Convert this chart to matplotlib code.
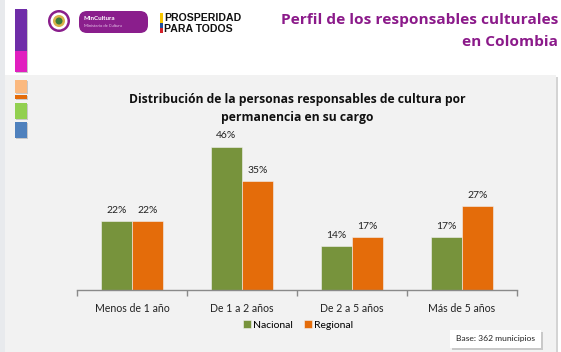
import matplotlib
matplotlib.use("Agg")
import matplotlib.pyplot as plt
from matplotlib.patches import Rectangle, FancyBboxPatch, Circle
import numpy as np

plt.rcParams['font.family'] = ['Lato', 'DejaVu Sans']
HEAD_FONT = ['Open Sans', 'DejaVu Sans']

# Data
categories = ["Menos de 1 año", "De 1 a 2 años", "De 2 a 5 años", "Más de 5 años"]
nacional = [22, 46, 14, 17]
regional = [22, 35, 17, 27]
series_names = ["Nacional", "Regional"]

W, H = 561, 352
fig = plt.figure(figsize=(W / 100, H / 100), dpi=100)
fig.patch.set_facecolor("#ffffff")

# Decoration layer in pixel coordinates (origin top-left)
bg = fig.add_axes([0, 0, 1, 1])
bg.set_xlim(0, W)
bg.set_ylim(H, 0)
bg.axis("off")

# Outer strip and page areas
bg.add_patch(Rectangle((0, 0), 5, H, color="#e8eaed", lw=0))
bg.add_patch(Rectangle((5, 0), W - 5, 74, color="#ffffff", lw=0))
# shadow and chart panel
bg.add_patch(Rectangle((7, 77), 551, H - 77, color="#d4d4d4", lw=0))
bg.add_patch(Rectangle((5, 75), 551, H - 75, color="#f2f2f2", lw=0))

# Left colour tabs
tabs = [
    (9, 51, "#6f2da8"),
    (51, 72, "#e11fbf"),
    (80, 93, "#fbb97f"),
    (95, 99, "#e46c0a"),
    (103, 119, "#92d050"),
    (122, 138, "#4f81bd"),
]
for y0, y1, c in tabs:
    bg.add_patch(Rectangle((16, y0 + 1), 12, y1 - y0, color="#c8c8c8", lw=0))
    bg.add_patch(Rectangle((15, y0), 12, y1 - y0, color=c, lw=0))

# Ministry logo
bg.add_patch(Circle((59, 21), 11, color="#8a1e8c", lw=0))
bg.add_patch(Circle((59, 21), 8.5, color="#ffffff", lw=0))
bg.add_patch(Circle((59, 21), 6, color="#d9b24a", lw=0))
bg.add_patch(Circle((59, 21), 3.5, color="#3a7d3a", lw=0))
bg.add_patch(FancyBboxPatch((79, 11), 69, 22, boxstyle="round,pad=0,rounding_size=8",
                            color="#8a1e8c", lw=0))
bg.text(84, 19, "MinCultura", fontsize=4.5, fontweight="bold", color="white",
        va="center", ha="left")
bg.text(84, 26, "Ministerio de Cultura", fontsize=3, color="#e8c8ea",
        va="center", ha="left")

# Prosperity logo
bg.add_patch(Rectangle((160, 13), 3, 10, color="#f7c600", lw=0))
bg.add_patch(Rectangle((160, 23), 3, 5, color="#1f4e9c", lw=0))
bg.add_patch(Rectangle((160, 28), 3, 5, color="#d4202a", lw=0))
bg.text(164, 18, "PROSPERIDAD", fontsize=7.6, fontweight="heavy", color="#111111",
        va="center", ha="left", family=["Liberation Sans", "DejaVu Sans"])
bg.text(164, 28.5, "PARA TODOS", fontsize=7.6, fontweight="heavy", color="#111111",
        va="center", ha="left", family=["Liberation Sans", "DejaVu Sans"])

# Page heading
bg.text(558, 20, "Perfil de los responsables culturales", fontsize=11.1,
        fontweight="bold", color="#8b1a8a", ha="right", va="center", family=HEAD_FONT)
bg.text(558, 42, "en Colombia", fontsize=11.1,
        fontweight="bold", color="#8b1a8a", ha="right", va="center", family=HEAD_FONT)

# Chart title
bg.text(297, 100, "Distribución de la personas responsables de cultura por",
        fontsize=8.7, fontweight="bold", color="#111111", ha="center", va="center",
        family=HEAD_FONT)
bg.text(297, 117, "permanencia en su cargo",
        fontsize=8.7, fontweight="bold", color="#111111", ha="center", va="center",
        family=HEAD_FONT)

# Chart axes
ax_left, ax_right, ax_bottom = 77, 517, 290
ymax = 50
px_per_unit = 3.115
ax_top = ax_bottom - ymax * px_per_unit
ax = fig.add_axes([ax_left / W, (H - ax_bottom) / H,
                   (ax_right - ax_left) / W, (ax_bottom - ax_top) / H])
ax.set_facecolor("none")
ax.set_xlim(-0.5, len(categories) - 0.5)
ax.set_ylim(0, ymax)

x = np.arange(len(categories))
bw = 0.282
colors = ["#77933c", "#e46c0a"]
for i, (vals, c) in enumerate(zip([nacional, regional], colors)):
    offs = (i - 0.5) * bw
    ax.bar(x + offs, vals, width=bw, color=c, edgecolor="#f2f2f2", linewidth=0.4,
           label=series_names[i], zorder=2)
    for xi, v in zip(x, vals):
        ax.annotate(f"{v}%", (xi + offs, v), xytext=(0, 4.5), textcoords="offset points",
                    ha="center", va="bottom", fontsize=7.5, color="#222222")

for s in ["top", "right", "left"]:
    ax.spines[s].set_visible(False)
ax.spines["bottom"].set_color("#8a8a8a")
ax.spines["bottom"].set_linewidth(1.0)
ax.set_yticks([])
ax.set_xticks(x)
ax.set_xticklabels(categories, fontsize=7.6, color="#222222")
ax.tick_params(axis="x", which="major", length=0, pad=9)
ax.set_xticks(np.arange(-0.5, len(categories)), minor=True)
ax.tick_params(axis="x", which="minor", length=4, color="#8a8a8a", width=1.0)

leg = ax.legend(loc="center", ncol=2, frameon=False, fontsize=7.5,
                handlelength=0.8, handleheight=0.8,
                handletextpad=0.2, columnspacing=1.0)
leg.set_bbox_to_anchor((298 / W, (H - 325) / H), transform=fig.transFigure)

# Base note box
bg.add_patch(Rectangle((452, 332), 91, 18, color="#c9c9c9", lw=0))
bg.add_patch(Rectangle((450, 330), 91, 18, color="#ffffff", lw=0))
bg.text(496, 339, "Base: 362 municipios", fontsize=6.1, color="#222222",
        ha="center", va="center")

fig.savefig("out.png", dpi=100)
